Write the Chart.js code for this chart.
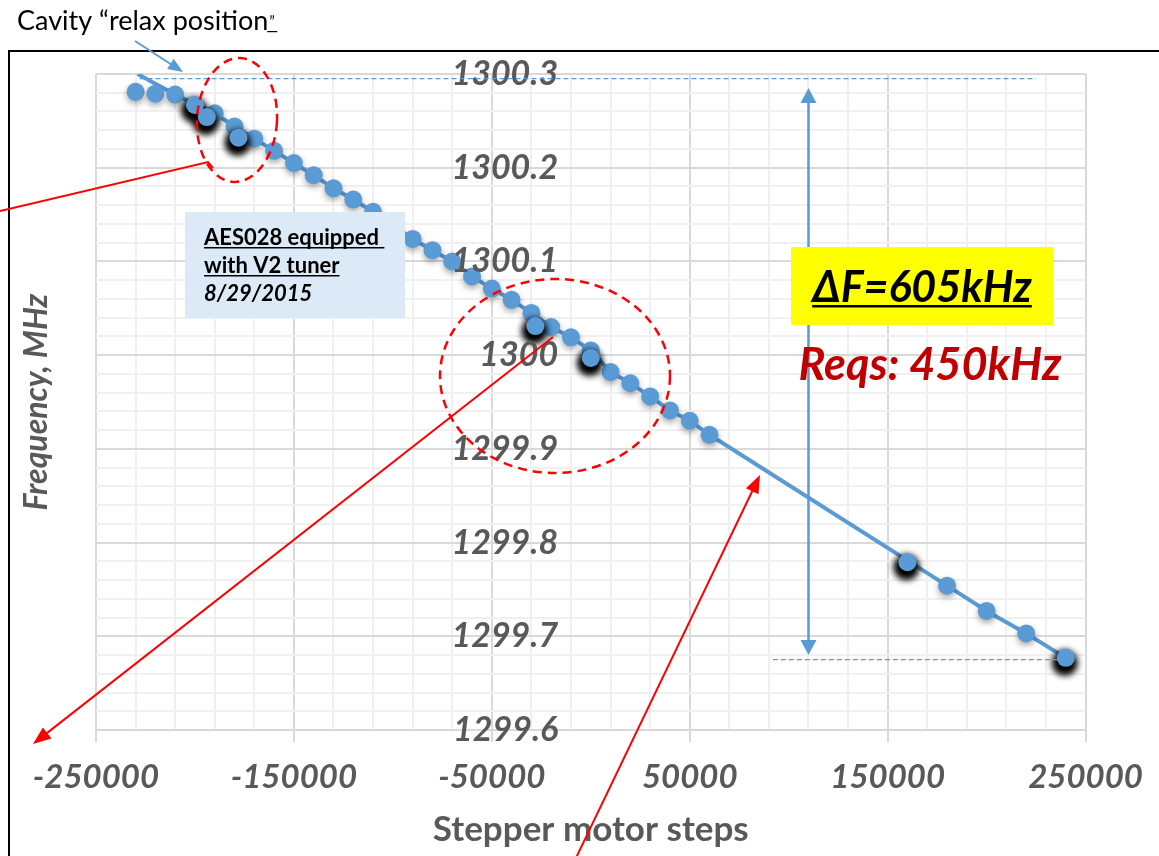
<!DOCTYPE html>
<html>
<head>
<meta charset="utf-8">
<script src="https://cdn.jsdelivr.net/npm/chart.js@4.4.1/dist/chart.umd.min.js"></script>
<style>
  html, body { margin: 0; padding: 0; background: #fff; }
  canvas { display: block; }
</style>
</head>
<body>
<canvas id="tunerChart" width="1159" height="856"></canvas>
<script>
// Tuner sweep: stepper motor position vs. cavity frequency
const stepsMain = [-230000, -220000, -210000, -190000, -180000, -170000, -160000, -150000,
    -140000, -130000, -120000, -110000, -100000, -90000, -80000, -70000, -60000, -50000,
    -40000, -30000, -20000, -10000, 0, 10000, 20000, 30000, 40000, 50000, 60000,
    180000, 200000, 220000];
const freqMain = [1300.281, 1300.279, 1300.278, 1300.258, 1300.244, 1300.231, 1300.218, 1300.205,
    1300.192, 1300.178, 1300.166, 1300.153, 1300.139, 1300.124, 1300.112, 1300.100, 1300.084, 1300.071,
    1300.059, 1300.045, 1300.030, 1300.019, 1300.005, 1299.982, 1299.970, 1299.956, 1299.941, 1299.930, 1299.915,
    1299.754, 1299.727, 1299.703];

// points drawn with the black shadow marker
const stepsMarked = [-200000, -194000, -178000, -28000, 0, 160000, 240000];
const freqMarked = [1300.267, 1300.254, 1300.232, 1300.031, 1299.997, 1299.779, 1299.677];

// relaxed cavity, where the trace starts
const relaxStep = -229000;
const relaxFreq = 1300.300;

// reference levels and tuning range
const topLevel = 1300.295;
const bottomLevel = 1299.675;
const deltaTop = 1300.285;
const deltaF = 0.605;          // MHz
const deltaStep = 110000;

const xTicks = { min: -250000, max: 250000, step: 20000, major: 100000 };
const yTicks = { min: 1299.6, max: 1300.3, step: 0.02 };
const yLabelAnchor = -16500;   // frequency labels sit just left of zero steps

const BLUE = '#5b9bd5';
const LABEL = '#595959';
const FONT = 'Lato';

function pts(xs, ys) {
    return xs.map((x, i) => ({ x: x, y: ys[i] }));
}

const traceSteps = [relaxStep].concat(stepsMain.slice(2), [stepsMarked[stepsMarked.length - 1]]);
const traceFreq = [relaxFreq].concat(freqMain.slice(2), [freqMarked[freqMarked.length - 1]]);

function isMajorX(v) { return Math.round(v - xTicks.min) % xTicks.major === 0; }
function isMajorY(v) { return Math.round((v - yTicks.min) / yTicks.step) % 5 === 0; }

// soft canvas shadow, plus an optional dark halo painted under each marker
const markerShadow = {
    id: 'markerShadow',
    beforeDatasetDraw(chart, args) {
        const ds = chart.data.datasets[args.index];
        const ctx = chart.ctx;
        if (ds.halo) {
            const meta = chart.getDatasetMeta(args.index);
            ctx.save();
            ctx.filter = `blur(${ds.halo.blur}px)`;
            ctx.fillStyle = '#000';
            meta.data.forEach(p => {
                ctx.beginPath();
                ctx.arc(p.x + ds.halo.dx, p.y + ds.halo.dy, ds.halo.r, 0, Math.PI * 2);
                ctx.fill();
            });
            ctx.restore();
        }
        if (!ds.shadow) return;
        ctx.save();
        ctx.shadowColor = ds.shadow.color;
        ctx.shadowBlur = ds.shadow.blur;
        ctx.shadowOffsetX = ds.shadow.dx;
        ctx.shadowOffsetY = ds.shadow.dy;
    },
    afterDatasetDraw(chart, args) {
        if (chart.data.datasets[args.index].shadow) chart.ctx.restore();
    }
};

function arrowHead(ctx, x0, y0, x1, y1, len, half, color) {
    const a = Math.atan2(y1 - y0, x1 - x0);
    ctx.save();
    ctx.fillStyle = color;
    ctx.translate(x1, y1);
    ctx.rotate(a);
    ctx.beginPath();
    ctx.moveTo(0, 0);
    ctx.lineTo(-len, -half);
    ctx.lineTo(-len, half);
    ctx.closePath();
    ctx.fill();
    ctx.restore();
}

function arrow(ctx, x0, y0, x1, y1, color, width, len, half) {
    const a = Math.atan2(y1 - y0, x1 - x0);
    ctx.save();
    ctx.strokeStyle = color;
    ctx.lineWidth = width;
    ctx.beginPath();
    ctx.moveTo(x0, y0);
    ctx.lineTo(x1 - Math.cos(a) * len * 0.8, y1 - Math.sin(a) * len * 0.8);
    ctx.stroke();
    ctx.restore();
    arrowHead(ctx, x0, y0, x1, y1, len, half, color);
}

function dashedEllipse(ctx, cx, cy, rx, ry, rot) {
    ctx.save();
    ctx.strokeStyle = '#ff0000';
    ctx.lineWidth = 2.5;
    ctx.setLineDash([9, 6]);
    ctx.beginPath();
    ctx.ellipse(cx, cy, rx, ry, rot, 0, Math.PI * 2);
    ctx.stroke();
    ctx.restore();
}

function underlined(ctx, text, x, y, lineY, width) {
    ctx.fillText(text, x, y);
    const w = ctx.measureText(text).width;
    const left = ctx.textAlign === 'center' ? x - w / 2 : x;
    ctx.fillRect(left, lineY, w, width);
}

// callouts, boxes and frame drawn over the plot
const overlay = {
    id: 'overlay',
    afterDraw(chart) {
        const ctx = chart.ctx;
        const xs = chart.scales.x, ys = chart.scales.y;

        // outer frame
        ctx.save();
        ctx.strokeStyle = '#000';
        ctx.lineWidth = 2;
        ctx.strokeRect(9, 51, 1300, 1000);

        // y axis title
        ctx.fillStyle = LABEL;
        ctx.font = `italic bold 32px ${FONT}`;
        ctx.textAlign = 'center';
        ctx.textBaseline = 'middle';
        ctx.translate(37, 402);
        ctx.rotate(-Math.PI / 2);
        ctx.fillText('Frequency, MHz', 0, 0);
        ctx.restore();

        // level lines
        ctx.save();
        ctx.strokeStyle = BLUE;
        ctx.lineWidth = 1.2;
        ctx.setLineDash([5, 3]);
        ctx.beginPath();
        ctx.moveTo(xs.getPixelForValue(-228000), ys.getPixelForValue(topLevel));
        ctx.lineTo(xs.getPixelForValue(225000), ys.getPixelForValue(topLevel));
        ctx.moveTo(xs.getPixelForValue(92000), ys.getPixelForValue(bottomLevel));
        ctx.lineTo(xs.getPixelForValue(stepsMarked[stepsMarked.length - 1]), ys.getPixelForValue(bottomLevel));
        ctx.stroke();
        ctx.restore();

        // tuning range double arrow
        const ax = xs.getPixelForValue(deltaStep);
        const aTop = ys.getPixelForValue(deltaTop);
        const aBot = ys.getPixelForValue(deltaTop - deltaF);
        ctx.save();
        ctx.strokeStyle = BLUE;
        ctx.lineWidth = 2.5;
        ctx.beginPath();
        ctx.moveTo(ax, aTop + 10);
        ctx.lineTo(ax, aBot - 10);
        ctx.stroke();
        ctx.restore();
        arrowHead(ctx, ax, aBot, ax, aTop, 15, 8, BLUE);
        arrowHead(ctx, ax, aTop, ax, aBot, 15, 8, BLUE);

        // caption at the top
        ctx.save();
        ctx.fillStyle = '#000';
        ctx.font = `27px ${FONT}`;
        ctx.textAlign = 'left';
        ctx.textBaseline = 'alphabetic';
        ctx.fillText('Cavity \u201crelax position', 17, 30);
        const cw = ctx.measureText('Cavity \u201crelax position').width;
        ctx.font = `15px ${FONT}`;
        ctx.fillText('\u201d', 17 + cw + 1, 27);
        ctx.fillRect(17 + cw - 1, 31, 10, 1.2);
        ctx.restore();
        arrow(ctx, 135, 41, 183, 72, BLUE, 2, 15, 6);

        // red callouts
        dashedEllipse(ctx, 237, 120, 40, 62, 0.06);
        dashedEllipse(ctx, 555, 376, 115, 97, 0);
        ctx.save();
        ctx.strokeStyle = '#ff0000';
        ctx.lineWidth = 2;
        ctx.beginPath();
        ctx.moveTo(0, 211);
        ctx.lineTo(208, 162);
        ctx.lineTo(213, 168);
        ctx.stroke();
        ctx.restore();
        arrow(ctx, 553, 337, 33, 744, '#ff0000', 2, 18, 7);
        arrow(ctx, 575, 860, 760, 475, '#ff0000', 2, 18, 7);

        // note box
        ctx.save();
        ctx.fillStyle = '#dce9f6';
        ctx.fillRect(185, 212, 220, 106);
        ctx.fillStyle = '#000';
        ctx.textAlign = 'left';
        ctx.textBaseline = 'alphabetic';
        ctx.font = `bold 22px ${FONT}`;
        underlined(ctx, 'AES028 equipped ', 204, 245, 247, 1.5);
        underlined(ctx, 'with V2 tuner', 204, 273, 275, 1.5);
        ctx.font = `italic bold 22px ${FONT}`;
        ctx.fillText('8/29/2015', 204, 301);
        ctx.restore();

        // range labels
        ctx.save();
        ctx.fillStyle = '#ffff00';
        ctx.fillRect(791, 247, 262, 78);
        ctx.fillStyle = '#000';
        ctx.font = `italic bold 43px ${FONT}`;
        ctx.textAlign = 'center';
        ctx.textBaseline = 'alphabetic';
        underlined(ctx, '\u0394F=605kHz', 922, 302, 305, 2.5);
        ctx.fillStyle = '#c00000';
        ctx.font = `italic bold 45px ${FONT}`;
        ctx.fillText('Reqs: 450kHz', 930, 380);
        ctx.restore();
    }
};

new Chart(document.getElementById('tunerChart'), {
    type: 'scatter',
    data: {
        datasets: [
            {
                label: 'trace',
                data: pts(traceSteps, traceFreq),
                showLine: true,
                borderColor: BLUE,
                borderWidth: 4,
                pointRadius: 0,
                pointHoverRadius: 0,
                order: 3
            },
            {
                label: 'measured',
                data: pts(stepsMain, freqMain),
                backgroundColor: BLUE,
                borderColor: BLUE,
                borderWidth: 0,
                pointRadius: 9,
                shadow: { color: 'rgba(0,0,0,0.35)', blur: 6, dx: 0, dy: 3 },
                order: 2
            },
            {
                label: 'marked',
                data: pts(stepsMarked, freqMarked),
                backgroundColor: BLUE,
                borderColor: BLUE,
                borderWidth: 0,
                pointRadius: 9,
                halo: { r: 13, blur: 3, dx: -1, dy: 5 },
                order: 1
            }
        ]
    },
    options: {
        responsive: false,
        animation: false,
        layout: { padding: { left: 96, right: 69, top: 74, bottom: 0 } },
        plugins: { legend: { display: false }, tooltip: { enabled: false } },
        scales: {
            x: {
                type: 'linear',
                min: xTicks.min,
                max: xTicks.max,
                afterFit: (scale) => { scale.height = 126; },
                ticks: {
                    stepSize: xTicks.step,
                    autoSkip: false,
                    maxRotation: 0,
                    minRotation: 0,
                    padding: 16,
                    color: LABEL,
                    font: { family: FONT, size: 33, style: 'italic', weight: 'bold' },
                    callback: (v) => isMajorX(v) ? String(v) : ''
                },
                grid: {
                    color: (c) => c.tick && isMajorX(c.tick.value) ? '#d9d9d9' : '#f0f0f0',
                    lineWidth: 2,
                    tickLength: 12,
                    tickColor: (c) => c.tick && isMajorX(c.tick.value) ? '#d9d9d9' : 'rgba(0,0,0,0)',
                    tickWidth: 2
                },
                border: { display: true, color: '#d9d9d9', width: 2 },
                title: {
                    display: true,
                    text: 'Stepper motor steps',
                    color: LABEL,
                    font: { family: FONT, size: 35, weight: 'bold' },
                    padding: { top: 0, bottom: 5 }
                }
            },
            y: {
                type: 'linear',
                position: { x: yLabelAnchor },
                min: yTicks.min,
                max: yTicks.max,
                ticks: {
                    stepSize: yTicks.step,
                    autoSkip: false,
                    z: 1,
                    color: LABEL,
                    font: { family: FONT, size: 34, style: 'italic', weight: 'bold' },
                    callback: (v) => isMajorY(v) ? String(Number(v.toFixed(1))) : ''
                },
                grid: {
                    color: (c) => c.tick && isMajorY(c.tick.value) ? '#d9d9d9' : '#f0f0f0',
                    lineWidth: 2,
                    drawTicks: false
                },
                border: { display: false }
            }
        }
    },
    plugins: [markerShadow, overlay]
});
</script>
</body>
</html>
